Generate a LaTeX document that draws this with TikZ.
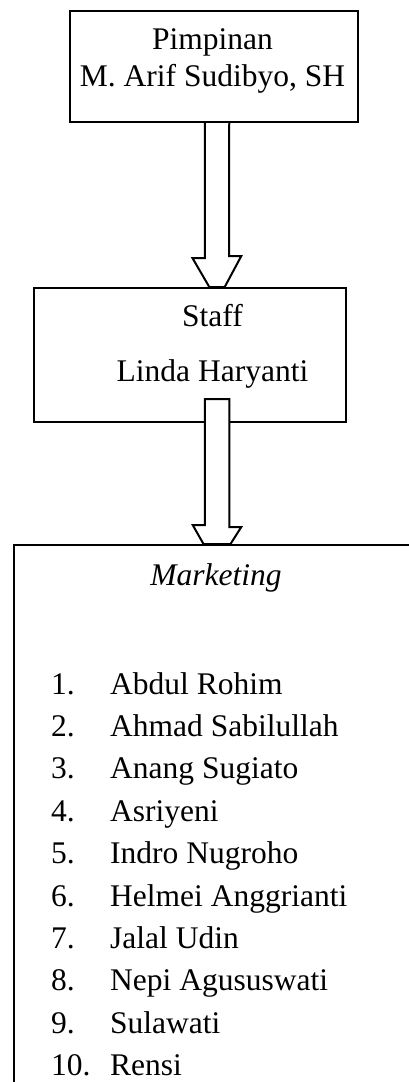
\documentclass[tikz,border=0pt]{standalone}
\usepackage{fontspec}
\setmainfont{Liberation Serif}
\usetikzlibrary{calc}
\begin{document}
\begin{tikzpicture}[x=1pt,y=-1pt,
  box/.style={draw=black, line width=2pt, fill=white, inner sep=0pt},
  blk/.style={draw=black, line width=2pt, fill=white, line join=miter},
  txt/.style={font=\fontsize{31.5}{38}\selectfont, anchor=base, inner sep=0pt},
  item/.style={txt, anchor=base west}]
\useasboundingbox (0,0) rectangle (409,1082);
\clip (0,0) rectangle (409,1082);
\coordinate (axis) at (217,0);
% boxes
\node[box, anchor=north west, minimum width=288pt, minimum height=111.5pt] (top) at (69,9.5) {};
\node[box, anchor=north west, minimum width=312pt, minimum height=134pt] (staff) at (33,287) {};
\node[box, anchor=north west, minimum width=420pt, minimum height=600pt] (mkt) at (13,544) {};
% arrow top -> staff
\draw[blk] ($(top.south -| axis)+(-12.25,0)$) -- ++(0,135) -- ++(-12.3,0)
  -- ($(staff.north -| axis)+(-7.7,0)$) -- ($(staff.north -| axis)+(7.7,0)$)
  -- ++(16.6,-31) -- ++(-12.3,0) -- ($(top.south -| axis)+(12.25,0)$);
% arrow staff -> marketing
\draw[blk] ($(mkt.north -| axis)+(-13.5,0)$) -- ++(-10.8,-19) -- ++(12.05,0)
  -- ($(staff.south -| axis)+(-12.25,-24)$) -- ++(24.5,0) -- ++(0,128) -- ++(12.05,0)
  -- ($(mkt.north -| axis)+(13.5,0)$) -- cycle;
% texts
\node[txt] (t1) at (212.5,49) {Pimpinan};
\node[txt] (t2) at (212.5,86) {M. Arif Sudibyo, SH};
\node[txt] (s1) at (212.5,326.7) {Staff};
\node[txt] (s2) at (212.5,381.7) {Linda Haryanti};
\node[txt, font=\fontsize{31.5}{38}\selectfont\itshape] (mh) at (216,585) {Marketing};
\foreach \k/\nm in {1/Abdul Rohim,2/Ahmad Sabilullah,3/Anang Sugiato,4/Asriyeni,5/Indro Nugroho,6/Helmei Anggrianti,7/Jalal Udin,8/Nepi Agususwati,9/Sulawati,10/Rensi}{
  \node[item] (n\k) at (51,{694+(\k-1)*42.4}) {\k.};
  \node[item] (m\k) at (110,{694+(\k-1)*42.4}) {\nm};
}
\end{tikzpicture}
\end{document}
